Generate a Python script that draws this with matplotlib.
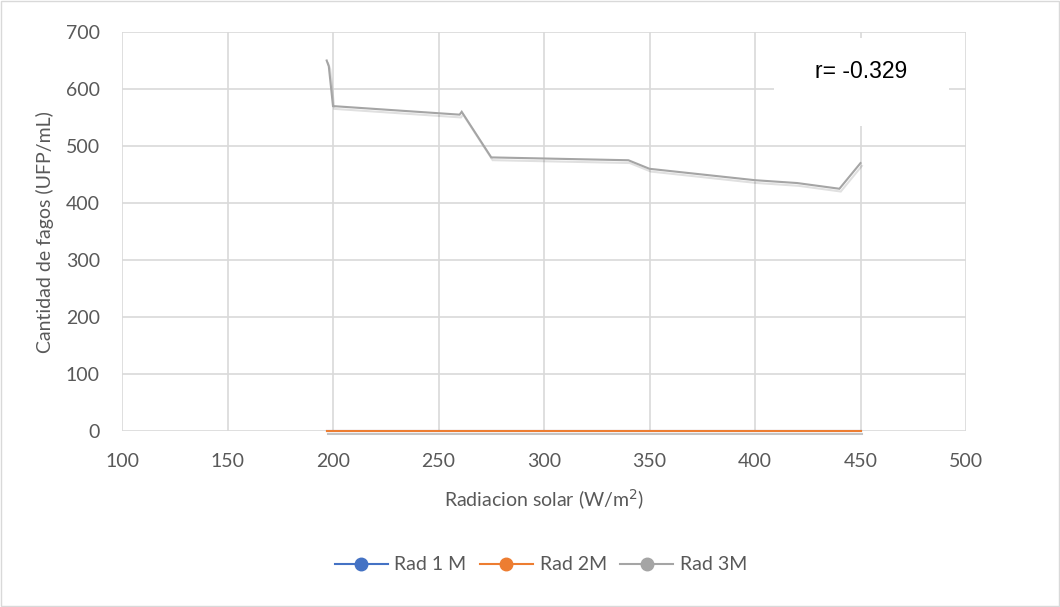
import matplotlib
matplotlib.use("Agg")
import matplotlib.pyplot as plt
import matplotlib.patheffects as pe
from matplotlib.patches import Rectangle

# Radiacion solar (W/m2) and phage counts
rad_x = [197, 198, 200, 260, 261, 275, 340, 350, 400, 420, 440, 450]
rad_1m = [0, 0, 0, 0, 0, 0, 0, 0, 0, 0, 0, 0]
rad_2m = [0, 0, 0, 0, 0, 0, 0, 0, 0, 0, 0, 0]
rad_3m = [650, 640, 570, 555, 560, 480, 475, 460, 440, 435, 425, 470]

series_names = ["Rad 1 M", "Rad 2M", "Rad 3M"]
series_colors = ["#4472C4", "#ED7D31", "#A5A5A5"]
r_text = "r= -0.329"

plt.rcParams['font.family'] = ['Lato', 'DejaVu Sans']
W, H = 1060, 607

fig = plt.figure(figsize=(W / 100, H / 100), dpi=100)
ax = fig.add_axes([122 / W, 1 - 431 / H, (966 - 122) / W, (431 - 32) / H])

shadow = [pe.SimpleLineShadow(offset=(1, -2), alpha=0.12, shadow_color='k'), pe.Normal()]
for ys, name, col in zip([rad_1m, rad_2m, rad_3m], series_names, series_colors):
    ax.plot(rad_x, ys, color=col, lw=1.5, label=name, solid_joinstyle='miter',
            path_effects=shadow, zorder=3, clip_on=False)

ax.set_xlim(100, 500)
ax.set_ylim(0, 700)
ax.set_xticks(range(100, 501, 50))
ax.set_yticks(range(0, 701, 100))
ax.grid(True, color='#D9D9D9', lw=1.2, zorder=0)
ax.set_axisbelow(True)
for s in ax.spines.values():
    s.set_visible(False)
ax.tick_params(length=0, labelsize=14, labelcolor='#595959')
ax.tick_params(axis='x', pad=16)
ax.tick_params(axis='y', pad=16)

fig.text(544 / W, 1 - 500 / H, "Radiacion solar (W/m$^2$)", ha='center', va='center',
         fontsize=14, color='#595959')
fig.text(45 / W, 1 - 232 / H, "Cantidad de fagos (UFP/mL)", ha='center', va='center',
         rotation=90, fontsize=14, color='#595959')

# white text box with the correlation coefficient
box = Rectangle((774 / W, 1 - 126 / H), (949 - 774) / W, (126 - 38) / H,
                transform=fig.transFigure, facecolor='white', edgecolor='none', zorder=5)
fig.add_artist(box)
fig.text(861 / W, 1 - 71 / H, r_text, ha='center', va='center', fontsize=16.5,
         family=['Liberation Sans', 'DejaVu Sans'], color='black', zorder=6)

handles = [plt.Line2D([], [], color=c, lw=1.5, marker='o', markersize=9) for c in series_colors]
fig.legend(handles, series_names, loc='center', bbox_to_anchor=(541 / W, 1 - 565 / H),
           ncol=3, frameon=False, fontsize=14, labelcolor='#595959',
           handlelength=2.7, columnspacing=0.7, handletextpad=0.35)

fig.add_artist(Rectangle((1 / W, 1 / H), (W - 2) / W, (H - 2) / H, transform=fig.transFigure,
                         facecolor='none', edgecolor='#D9D9D9', lw=1))

fig.savefig("out.png", dpi=100, facecolor='white')
